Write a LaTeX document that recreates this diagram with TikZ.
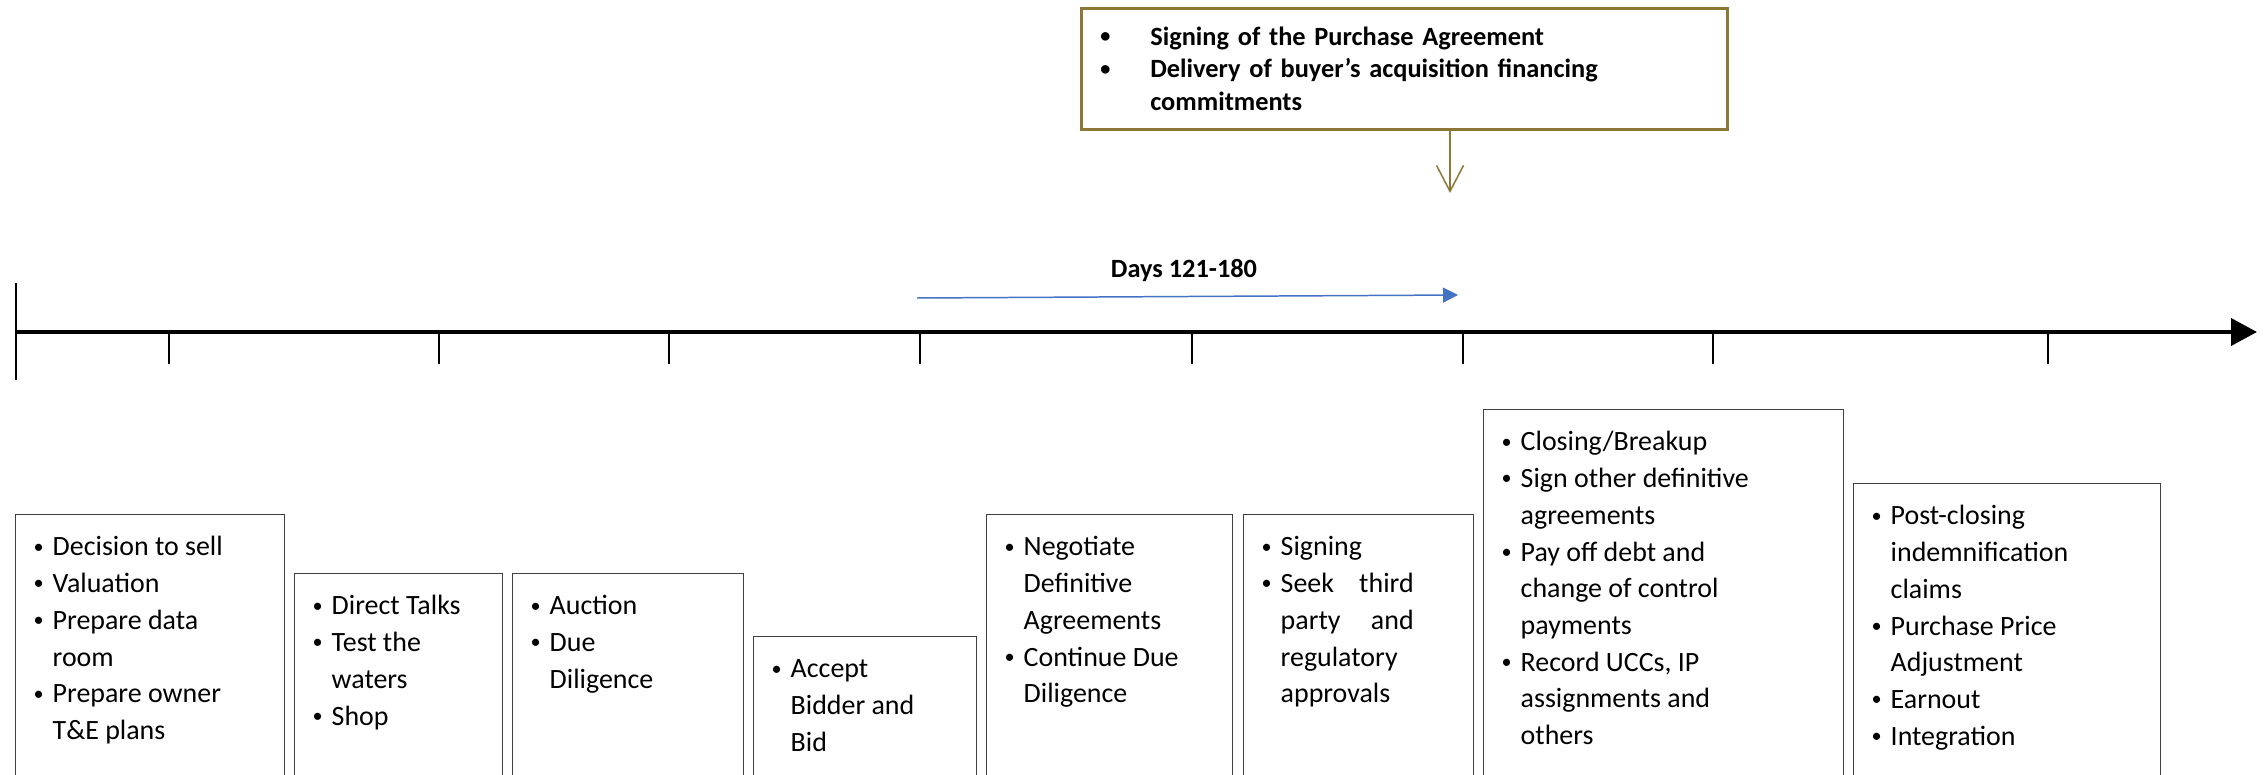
\documentclass[tikz,border=0pt]{standalone}
\usepackage{fontspec}
\usepackage{graphicx}
\setmainfont{Carlito}
\usetikzlibrary{arrows.meta}

\definecolor{signgold}{HTML}{8C7737}
\definecolor{daysblue}{HTML}{4472C4}
\definecolor{boxgray}{HTML}{404040}

\newlength\pxu
\setlength\pxu{0.02cm}
\newcommand{\smalldot}{\raisebox{1.5pt}{\fontsize{11.5}{11.5}\selectfont\textbullet}}
\newcommand{\bul}{\hspace*{6\pxu}\makebox[0pt]{\smalldot}\hspace*{14\pxu}}
\newcommand{\cnt}{\hspace*{20\pxu}}
\newcommand{\topbul}{\hspace*{6\pxu}\makebox[0pt]{\smalldot}\hspace*{45\pxu}}
\newcommand{\phasetext}[2]{\begin{minipage}[t][420\pxu][t]{#1\pxu}\raggedright\fontsize{15.9}{20.9}\selectfont\strut#2\end{minipage}}

\tikzstyle{phase} = [draw=boxgray,line width=0.8pt,anchor=north west,inner xsep=0.34cm,inner ysep=0.31cm]
\tikzstyle{tick} = [line width=1.4pt]
\tikzstyle{signbox} = [draw=signgold,line width=1.5pt,anchor=north west,minimum width=12.92cm,minimum height=2.42cm,inner xsep=0.36cm,text width=12.2cm,align=left,font=\fontsize{15}{18.4}\selectfont\bfseries]

\begin{document}
\begin{tikzpicture}[x=0.02cm,y=-0.02cm]
	\useasboundingbox (0,0) rectangle (2264,774);
	\clip (0,0) rectangle (2264,774);
	% timeline
	\coordinate (t0) at (16,332);
	\coordinate (t1) at (2257,332);
	\draw[line width=1.7pt] (16,283) -- (16,380);
	\draw[line width=2.2pt,-{Triangle[length=0.52cm,width=0.54cm]}] (t0) -- (t1);
	\foreach \x in {169,439,669,920,1192,1463,1713,2048}
		\draw[tick] (\x,332) -- (\x,364);
	% days 121-180
	\coordinate (d0) at (917,298);
	\coordinate (d1) at (1458,295);
	\draw[daysblue,line width=0.85pt,-{Triangle[length=0.3cm,width=0.3cm]}] (d0) -- (d1);
	\node[anchor=base,font=\fontsize{15}{18}\selectfont\bfseries] (days) at (1184,277) {Days 121-180};
	% signing box
	\node[signbox] (sign) at (1080,7) {\topbul Signing of the Purchase Agreement\\
		\topbul Delivery of buyer’s acquisition financing\\
		\hspace*{51\pxu}commitments};
	\coordinate (signtip) at (1450,193);
	\draw[signgold,line width=0.85pt,-{Straight Barb[length=0.52cm,width=0.54cm]}] (sign.south -| signtip) -- (signtip);
	% phases
	\node[phase] (p1) at (15,514) {\phasetext{235}{\bul Decision to sell\\ \bul Valuation\\ \bul Prepare data\\ \cnt room\\ \bul Prepare owner\\ \cnt T\&E plans}};
	\node[phase] (p2) at (294,573) {\phasetext{174}{\bul Direct Talks\\ \bul Test the\\ \cnt waters\\ \bul Shop}};
	\node[phase] (p3) at (512,573) {\phasetext{197}{\bul Auction\\ \bul Due\\ \cnt Diligence}};
	\node[phase] (p4) at (753,636) {\phasetext{189}{\bul Accept\\ \cnt Bidder and\\ \cnt Bid}};
	\node[phase] (p5) at (986,514) {\phasetext{212}{\bul Negotiate\\ \cnt Definitive\\ \cnt Agreements\\ \bul Continue Due\\ \cnt Diligence}};
	\node[phase] (p6) at (1243,514) {\phasetext{196}{\bul Signing\\ \bul\makebox[133\pxu][s]{Seek third}\\ \cnt\makebox[133\pxu][s]{party and}\\ \cnt regulatory\\ \cnt approvals}};
	\node[phase] (p7) at (1483,409) {\phasetext{326}{\bul Closing/Breakup\\ \bul Sign other definitive\\ \cnt agreements\\ \bul Pay off debt and\\ \cnt change of control\\ \cnt payments\\ \bul Record UCCs, IP\\ \cnt assignments and\\ \cnt others}};
	\node[phase] (p8) at (1853,483) {\phasetext{273}{\bul Post-closing\\ \cnt indemnification\\ \cnt claims\\ \bul Purchase Price\\ \cnt Adjustment\\ \bul Earnout\\ \bul Integration}};
\end{tikzpicture}
\end{document}
